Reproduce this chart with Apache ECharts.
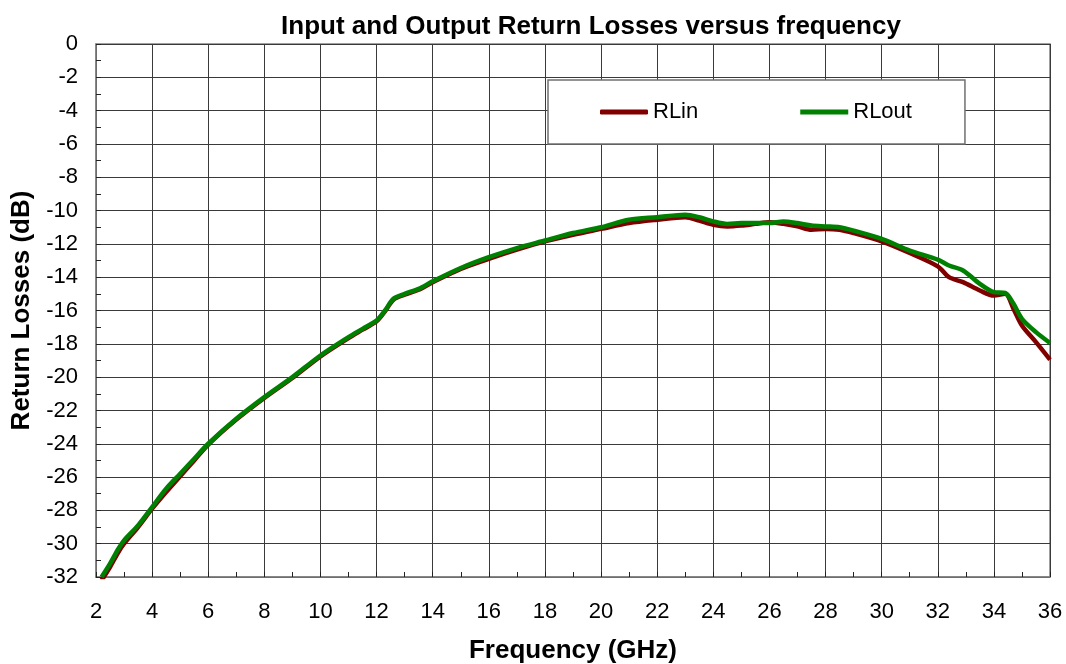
<!DOCTYPE html>
<html>
<head>
<meta charset="utf-8">
<title>Input and Output Return Losses versus frequency</title>
<script src="https://cdn.jsdelivr.net/npm/echarts@6/dist/echarts.min.js"></script>
<style>
    html, body { margin: 0; padding: 0; background: #fff; }
    #chart { width: 1066px; height: 664px; }
</style>
</head>
<body>
<div id="chart"></div>
<script>
// frequency points (GHz)
var freq = [2.2, 2.5, 2.8, 3.0, 3.5, 4.0, 4.5, 5.0, 5.5, 6.0, 7, 8, 9, 10, 11, 11.5, 12, 12.3, 12.6, 13, 13.5,
    14, 15, 16, 17, 18, 19, 20, 21, 22, 23, 23.5, 24, 24.5, 25, 25.5, 26, 26.5, 27, 27.5, 28, 28.5, 29,
    30, 31, 32, 32.4, 32.9, 33.5, 34, 34.4, 34.7, 35, 35.5, 36];

// input return loss (dB)
var rlin = [-32.2, -31.4, -30.5, -30.0, -29.0, -27.9, -26.9, -25.95, -25.0, -24.05, -22.55, -21.25, -20.05, -18.75,
    -17.65, -17.15, -16.65, -16.05, -15.35, -15.05, -14.75, -14.3, -13.5, -12.9, -12.35, -11.85, -11.45, -11.1,
    -10.75, -10.55, -10.4, -10.6, -10.85, -10.95, -10.9, -10.8, -10.7, -10.8, -10.95, -11.15, -11.1, -11.15,
    -11.35, -11.85, -12.55, -13.35, -14.0, -14.3, -14.8, -15.1, -15.0, -15.9, -16.9, -17.9, -18.95];

// output return loss (dB)
var rlout = [-32.0, -31.2, -30.3, -29.8, -28.9, -27.8, -26.7, -25.8, -24.9, -24.0, -22.5, -21.2, -20.0, -18.7,
    -17.6, -17.1, -16.6, -16.0, -15.3, -15.0, -14.7, -14.25, -13.45, -12.8, -12.25, -11.8, -11.35, -11.0,
    -10.55, -10.4, -10.25, -10.4, -10.65, -10.8, -10.75, -10.75, -10.75, -10.65, -10.75, -10.9, -10.95, -11.0,
    -11.2, -11.7, -12.4, -12.95, -13.3, -13.6, -14.4, -14.9, -14.95, -15.6, -16.5, -17.3, -17.95];

var seriesNames = ['RLin', 'RLout'];

function pairs(xs, ys) {
    var out = [];
    for (var i = 0; i < xs.length; i++) {
        out.push([xs[i], ys[i]]);
    }
    return out;
}

var font = '"Liberation Sans", Arial, sans-serif';
var myChart = echarts.init(document.getElementById('chart'), null, { renderer: 'canvas' });

// second axes only carry the small inner ticks at every 1 unit
function tickAxis(min, max, pos) {
    return {
        type: 'value',
        min: min,
        max: max,
        interval: 1,
        position: pos,
        axisLine: { show: false, onZero: false },
        axisTick: { show: true, inside: true, length: 5, lineStyle: { color: '#222', width: 1 } },
        axisLabel: { show: false },
        splitLine: { show: false }
    };
}

var option = {
    backgroundColor: '#fff',
    animation: false,
    title: {
        text: 'Input and Output Return Losses versus frequency',
        left: 586,
        textAlign: 'center',
        top: 9,
        textStyle: { fontFamily: font, fontSize: 26, fontWeight: 'bold', color: '#000' }
    },
    legend: {
        data: [
            { name: seriesNames[0], icon: 'roundRect' },
            { name: seriesNames[1], icon: 'rect' }
        ],
        left: 548,
        top: 80,
        padding: [21, 53, 21, 52],
        itemWidth: 48,
        itemHeight: 5,
        itemGap: 102,
        backgroundColor: '#fff',
        borderColor: '#707070',
        borderWidth: 1.5,
        textStyle: { fontFamily: font, fontSize: 22, color: '#000' }
    },
    grid: {
        left: 96,
        right: 16,
        top: 44,
        bottom: 87,
        outerBoundsMode: 'none',
        show: true,
        borderColor: '#808080',
        borderWidth: 1.5
    },
    xAxis: [{
        type: 'value',
        min: 2,
        max: 36,
        interval: 2,
        name: 'Frequency (GHz)',
        nameLocation: 'middle',
        nameGap: 61,
        nameTextStyle: { fontFamily: font, fontSize: 26, fontWeight: 'bold', color: '#000' },
        axisLine: { show: true, onZero: false, lineStyle: { color: '#808080', width: 1.5 } },
        axisTick: { show: false },
        axisLabel: { fontFamily: font, fontSize: 22, color: '#000', margin: 24 },
        splitLine: { show: true, lineStyle: { color: '#3a3a3a', width: 1 } }
    }, tickAxis(2, 36, 'bottom')],
    yAxis: [{
        type: 'value',
        min: -32,
        max: 0,
        interval: 2,
        name: 'Return Losses (dB)',
        nameLocation: 'middle',
        nameGap: 58,
        nameTextStyle: { fontFamily: font, fontSize: 26, fontWeight: 'bold', color: '#000' },
        axisLine: { show: true, onZero: false, lineStyle: { color: '#808080', width: 1.5 } },
        axisTick: { show: false },
        axisLabel: { fontFamily: font, fontSize: 22, color: '#000', margin: 18 },
        splitLine: { show: true, lineStyle: { color: '#3a3a3a', width: 1 } }
    }, tickAxis(-32, 0, 'left')],
    series: [
        {
            name: seriesNames[0],
            type: 'line',
            data: pairs(freq, rlin),
            smooth: 0.3,
            symbol: 'none',
            color: '#800000',
            lineStyle: { color: '#800000', width: 4.5 }
        },
        {
            name: seriesNames[1],
            type: 'line',
            data: pairs(freq, rlout),
            smooth: 0.3,
            symbol: 'none',
            color: '#008000',
            lineStyle: { color: '#008000', width: 4.5 }
        }
    ]
};

myChart.setOption(option);
</script>
</body>
</html>
